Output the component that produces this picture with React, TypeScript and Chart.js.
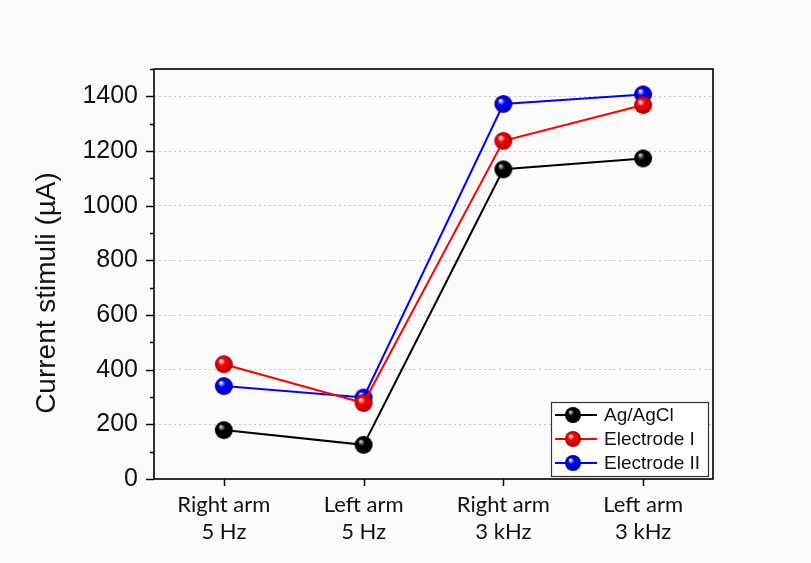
import React, { useEffect, useRef } from "react";
import { Chart, registerables } from "chart.js";

Chart.register(...registerables);

const categories: string[][] = [
  ["Right arm", "5 Hz"],
  ["Left arm", "5 Hz"],
  ["Right arm", "3 kHz"],
  ["Left arm", "3 kHz"],
];
const agAgCl: number[] = [179, 125, 1133, 1173];
const electrodeI: number[] = [420, 278, 1237, 1368];
const electrodeII: number[] = [340, 298, 1372, 1407];
const seriesNames: string[] = ["Ag/AgCl", "Electrode I", "Electrode II"];
const seriesColors: string[] = ["#000000", "#ff0000", "#0000ff"];
const yMin = 0;
const yMax = 1500;
const yMajorStep = 200;
const yMinorStep = 100;
const yTitle = "Current stimuli (\u00b5A)";

function shade(color: string): string {
  if (color === "#ff0000") return "#b00000";
  if (color === "#0000ff") return "#0000a8";
  return color;
}
function sphere(color: string, r: number): HTMLCanvasElement {
  const c = document.createElement("canvas");
  const s = Math.ceil(2 * r + 2);
  c.width = s;
  c.height = s;
  const ctx = c.getContext("2d")!;
  const cx = s / 2, cy = s / 2;
  const g = ctx.createRadialGradient(cx - r * 0.35, cy - r * 0.4, r * 0.05, cx, cy, r);
  const hl = color === "#000000" ? "#d0d0d0" : "#ffffff";
  g.addColorStop(0, hl);
  g.addColorStop(0.35, color);
  g.addColorStop(1, color === "#000000" ? "#000000" : shade(color));
  ctx.fillStyle = g;
  ctx.beginPath();
  ctx.arc(cx, cy, r, 0, Math.PI * 2);
  ctx.fill();
  return c;
}

export default function App() {
  const ref = useRef<HTMLCanvasElement | null>(null);
  useEffect(() => {
    document.body.style.margin = "0";
    document.body.style.background = "#fbfbfb";
    const canvas = ref.current!;
    const data = [agAgCl, electrodeI, electrodeII];
    const big = seriesColors.map((c) => sphere(c, 9));
    const small = seriesColors.map((c) => sphere(c, 8));

    const framePlugin = {
      id: "frame",
      afterDraw(chart: any) {
        const { ctx, chartArea: a, scales } = chart;
        const y = scales.y;
        const x = scales.x;
        ctx.save();
        ctx.strokeStyle = "#000";
        ctx.lineWidth = 1.6;
        ctx.strokeRect(a.left, a.top, a.right - a.left, a.bottom - a.top);
        ctx.lineWidth = 1.5;
        for (let v = yMin; v <= yMax; v += yMinorStep) {
          const py = Math.round(y.getPixelForValue(v)) + 0.5;
          const len = v % yMajorStep === 0 ? 8 : 4;
          ctx.beginPath();
          ctx.moveTo(a.left - len, py);
          ctx.lineTo(a.left, py);
          ctx.stroke();
        }
        for (let i = 0; i < categories.length; i++) {
          const px = Math.round(x.getPixelForValue(i)) + 0.5;
          ctx.beginPath();
          ctx.moveTo(px, a.bottom);
          ctx.lineTo(px, a.bottom + 7);
          ctx.stroke();
        }
        // y-axis title
        ctx.save();
        ctx.translate(47, 293);
        ctx.rotate(-Math.PI / 2);
        ctx.font = "28px 'Liberation Sans', Arial, sans-serif";
        ctx.fillStyle = "#111";
        ctx.textAlign = "center";
        ctx.textBaseline = "middle";
        ctx.fillText(yTitle, 0, 0);
        ctx.restore();
        // legend
        const lx = 551, ly = 402, lw = 157, lh = 74;
        ctx.fillStyle = "#ffffff";
        ctx.fillRect(lx, ly, lw, lh);
        ctx.strokeStyle = "#333";
        ctx.lineWidth = 1.2;
        ctx.strokeRect(lx + 0.5, ly + 0.5, lw, lh);
        ctx.font = "19px 'Liberation Sans', Arial, sans-serif";
        ctx.textBaseline = "middle";
        ctx.textAlign = "left";
        for (let i = 0; i < seriesNames.length; i++) {
          const ry = ly + 13 + i * 24;
          ctx.strokeStyle = seriesColors[i];
          ctx.lineWidth = 1.8;
          ctx.beginPath();
          ctx.moveTo(lx + 4, ry);
          ctx.lineTo(lx + 46, ry);
          ctx.stroke();
          const sp = small[i];
          ctx.drawImage(sp, lx + 22 - sp.width / 2, ry - sp.height / 2);
          ctx.fillStyle = "#111";
          ctx.fillText(seriesNames[i], lx + 53, ry + 1);
        }
        ctx.restore();
      },
    };

    const chart = new Chart(canvas, {
      type: "line",
      data: {
        labels: categories,
        datasets: data.map((d, i) => ({
          label: seriesNames[i],
          data: d,
          borderColor: seriesColors[i],
          backgroundColor: seriesColors[i],
          borderWidth: 2,
          pointStyle: big[i] as any,
          pointRadius: 9,
          tension: 0,
        })),
      },
      options: {
        animation: false,
        responsive: false,
        maintainAspectRatio: false,
        layout: { padding: { left: 0, top: 69, right: 98, bottom: 0 } },
        plugins: {
          legend: { display: false },
          tooltip: { enabled: false },
        },
        scales: {
          x: {
            type: "category",
            offset: true,
            grid: { display: false, drawTicks: false },
            border: { display: false },
            ticks: {
              padding: 13,
              color: "#111",
              font: { family: "Lato, 'Open Sans', sans-serif", size: 22, lineHeight: 1.2 },
              maxRotation: 0,
              autoSkip: false,
            },
            afterFit(scale: any) {
              scale.height = 84;
            },
          },
          y: {
            min: yMin,
            max: yMax,
            grid: {
              drawTicks: false,
              color: (ctx: any) =>
                ctx.tick && ctx.tick.value % yMajorStep === 0 && ctx.tick.value !== yMin && ctx.tick.value !== yMax
                  ? "#c4c4c4"
                  : "rgba(0,0,0,0)",
              lineWidth: 1,
            },
            border: { display: false, dash: [2, 3] },
            ticks: {
              stepSize: yMinorStep,
              padding: 16,
              color: "#111",
              font: { family: "'Liberation Sans', Arial, sans-serif", size: 25 },
              callback: (v: any) => (Number(v) % yMajorStep === 0 ? String(v) : ""),
            },
            afterFit(scale: any) {
              scale.width = 154;
            },
          },
        },
      },
      plugins: [framePlugin],
    });
    return () => chart.destroy();
  }, []);
  return (
    <div style={{ position: "absolute", left: 0, top: 0, width: 811, height: 563, background: "#fbfbfb" }}>
      <canvas ref={ref} width={811} height={563} style={{ width: 811, height: 563, display: "block" }} />
    </div>
  );
}
